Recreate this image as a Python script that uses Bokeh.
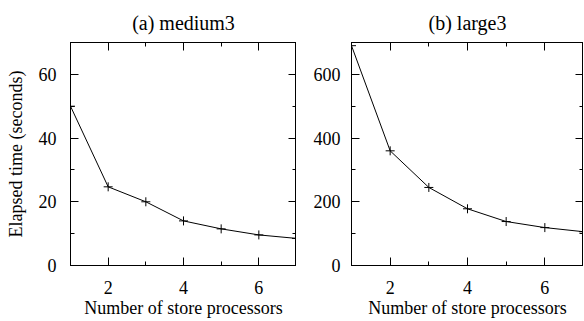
from bokeh.plotting import figure
from bokeh.layouts import row
from bokeh.models import LinearAxis, FixedTicker, Range1d
from bokeh.embed import file_html
from bokeh.resources import INLINE

processors = [1, 2, 3, 4, 5, 6, 7]
medium3 = [50, 24.7, 20, 14, 11.5, 9.6, 8.5]
large3 = [690, 360, 245, 178, 138, 119, 106]

x_ticks = [2, 4, 6]
medium_ticks = [0, 20, 40, 60]
large_ticks = [0, 200, 400, 600]

FONT = "Liberation Serif"
FS = "18px"


def style_axis(ax, show_labels=True):
    ax.axis_line_color = "black"
    ax.axis_line_width = 1
    ax.major_tick_in = 8
    ax.major_tick_out = 0
    ax.minor_tick_in = 4
    ax.minor_tick_out = 0
    ax.major_tick_line_color = "black"
    ax.minor_tick_line_color = "black"
    ax.major_label_text_font = FONT
    ax.major_label_text_font_size = FS
    ax.major_label_text_color = "black"
    ax.axis_label_text_font = FONT
    ax.axis_label_text_font_size = FS
    ax.axis_label_text_font_style = "normal"
    ax.axis_label_text_color = "black"
    if not show_labels:
        ax.major_label_text_font_size = "0px"
        ax.major_label_text_color = None
        ax.major_label_standoff = 0


def make_plot(title, ys, yticks, ymax, width, bl, br, lab_standoff, ylabel=None):
    p = figure(width=width, height=320, output_backend="svg", toolbar_location=None,
               x_range=Range1d(1, 7), y_range=Range1d(0, ymax),
               min_border_left=bl, min_border_right=br, min_border_top=0, min_border_bottom=0,
               x_axis_location=None, y_axis_location=None)
    p.title.text = title
    p.title.align = "center"
    p.title.text_font = FONT
    p.title.text_font_size = "20px"
    p.title.text_font_style = "normal"
    p.title.text_color = "black"
    p.title.standoff = 18
    p.grid.visible = False
    p.outline_line_color = "black"
    p.outline_line_width = 1
    p.background_fill_color = "white"
    p.border_fill_color = "white"

    xb = LinearAxis(ticker=FixedTicker(ticks=x_ticks, minor_ticks=[1, 3, 5, 7]),
                    axis_label="Number of store processors")
    style_axis(xb)
    xb.major_label_standoff = 15
    xb.axis_label_standoff = 1
    p.add_layout(xb, "below")
    xt = LinearAxis(ticker=FixedTicker(ticks=x_ticks, minor_ticks=[1, 3, 5, 7]))
    style_axis(xt, False)
    p.add_layout(xt, "above")

    step = yticks[1] - yticks[0]
    minors = [t + step / 2 for t in yticks]
    yl = LinearAxis(ticker=FixedTicker(ticks=yticks, minor_ticks=minors),
                    axis_label=ylabel)
    style_axis(yl)
    yl.major_label_standoff = lab_standoff
    yl.axis_label_standoff = 10
    p.add_layout(yl, "left")
    yr = LinearAxis(ticker=FixedTicker(ticks=yticks, minor_ticks=minors))
    style_axis(yr, False)
    p.add_layout(yr, "right")

    p.line(processors, ys, line_color="black", line_width=1)
    p.scatter(processors, ys, marker="cross", size=9, line_color="black", line_width=1)
    return p


p1 = make_plot("(a) medium3", medium3, medium_ticks, 70, 296, 70, 0, 14,
               ylabel="Elapsed time (seconds)")
p2 = make_plot("(b) large3", large3, large_ticks, 700, 287, 55, 0, 11)

layout = row(p1, p2)
open("out.html", "w").write(file_html(layout, INLINE))
